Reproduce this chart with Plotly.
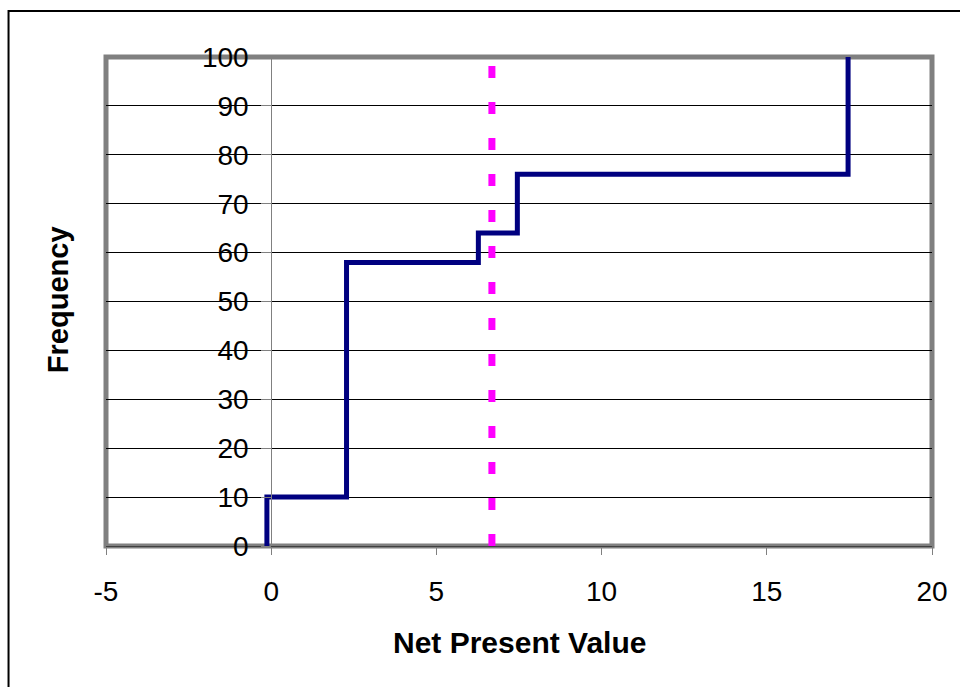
import plotly.graph_objects as go

# Step (cumulative) data: Net Present Value vs Frequency
npv_values = [-0.13, -0.13, 2.28, 6.27, 7.45, 17.46]
freq_values = [0, 10, 58, 64, 76, 100]

# Reference (mean) line
mean_npv = [6.68, 6.68]
mean_freq = [0, 100]

x_tick_vals = [-5, 0, 5, 10, 15, 20]
x_tick_labels = ["-5", "0", "5", "10", "15", "20"]
y_tick_vals = [0, 10, 20, 30, 40, 50, 60, 70, 80, 90, 100]
y_tick_labels = ["0", "10", "20", "30", "40", "50", "60", "70", "80", "90", "100"]

FONT = "Liberation Sans, Arial, sans-serif"

fig = go.Figure()
fig.add_trace(go.Scatter(
    x=npv_values, y=freq_values, mode="lines", line_shape="hv",
    line=dict(color="#000080", width=5), showlegend=False, hoverinfo="skip"))
fig.add_trace(go.Scatter(
    x=mean_npv, y=mean_freq, mode="lines",
    line=dict(color="#FF00FF", width=7, dash="12px,24px"),
    showlegend=False, hoverinfo="skip"))

fig.update_layout(
    width=960, height=687,
    margin=dict(l=106, r=25, t=57, b=141),
    paper_bgcolor="white", plot_bgcolor="white",
    font=dict(family=FONT, color="black"),
    xaxis=dict(range=[-5, 20], tickvals=x_tick_vals, ticktext=x_tick_labels,
               ticks="outside", ticklen=8, tickcolor="#808080", tickwidth=1,
               tickfont=dict(size=28, family=FONT, color="black"),
               ticklabelstandoff=12,
               showgrid=False, zeroline=False, showline=True,
               linecolor="#404040", linewidth=1, fixedrange=True),
    yaxis=dict(range=[0, 100], tickvals=y_tick_vals, ticktext=y_tick_labels,
               anchor="free", position=0.2,
               ticks="outside", ticklen=10, tickcolor="#808080", tickwidth=1,
               tickfont=dict(size=28, family=FONT, color="black"),
               ticklabelstandoff=7,
               showgrid=True, gridcolor="black", gridwidth=1,
               zeroline=False, showline=True, linecolor="#808080", linewidth=1,
               fixedrange=True),
    shapes=[
        dict(type="rect", xref="paper", yref="paper", x0=0, x1=1, y0=0, y1=1,
             line=dict(color="#808080", width=5), layer="between"),
        dict(type="rect", xref="paper", yref="paper", x0=-0.118, x1=1.2,
             y0=-0.5, y1=1.094, line=dict(color="black", width=2), layer="above"),
    ],
    annotations=[
        dict(text="<b>Net Present Value</b>", xref="paper", yref="paper",
             x=0.5, y=-0.198, xanchor="center", yanchor="middle",
             showarrow=False, font=dict(size=30, family=FONT, color="black")),
        dict(text="<b>Frequency</b>", xref="paper", yref="paper",
             x=-0.058, y=0.503, xanchor="center", yanchor="middle", textangle=-90,
             showarrow=False, font=dict(size=29, family=FONT, color="black")),
    ],
)

fig.write_html("out.html")
